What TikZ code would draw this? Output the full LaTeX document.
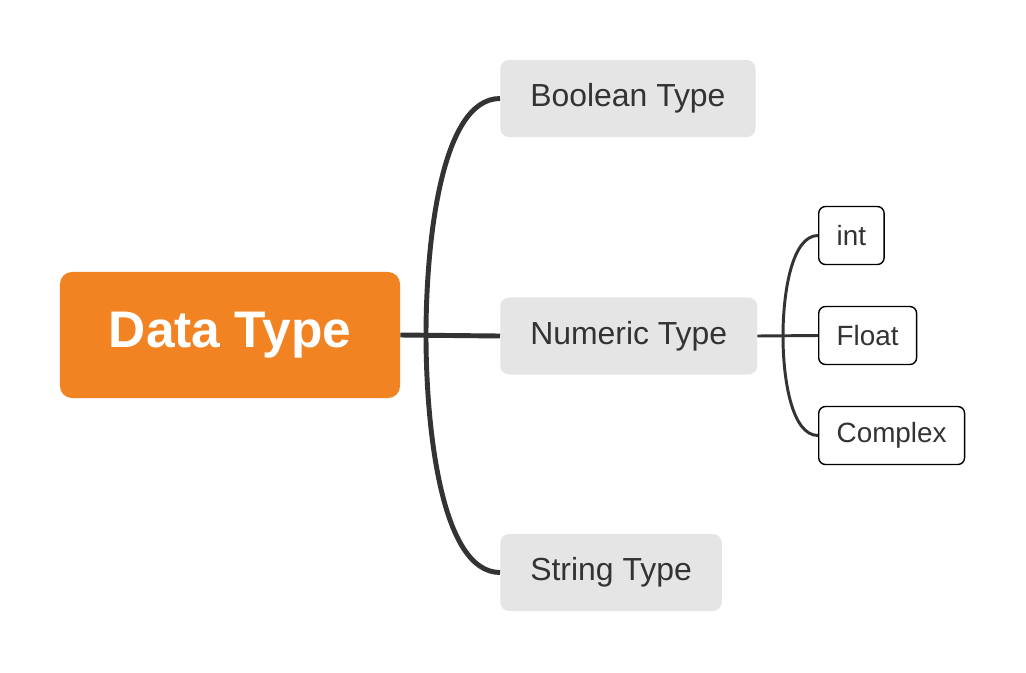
\documentclass[tikz,border=0pt]{standalone}
\usepackage{fontspec}
\setmainfont{Liberation Sans}
\usepackage{tikz}

\definecolor{rootorange}{HTML}{F28322}
\definecolor{boxgray}{HTML}{E5E5E5}
\definecolor{inkgray}{HTML}{333333}

\begin{document}
\begin{tikzpicture}[x=0.025cm, y=-0.025cm,
  rootbox/.style={fill=rootorange, rounded corners=0.3cm, text=white,
    font=\fontsize{36.6}{40}\selectfont\bfseries, minimum width=8.5cm, minimum height=3.15cm},
  typebox/.style={fill=boxgray, rounded corners=0.22cm, text=inkgray, anchor=west,
    font=\fontsize{22.7}{26}\selectfont, inner xsep=0.75cm, minimum height=1.925cm},
  leafbox/.style={draw=black, line width=1pt, fill=white, rounded corners=0.17cm, text=inkgray,
    anchor=west, font=\fontsize{19.8}{23}\selectfont, inner xsep=0.45cm, minimum height=1.45cm},
  trunk/.style={draw=inkgray, line width=3.5pt},
  twig/.style={draw=inkgray, line width=2.1pt}
]
  \useasboundingbox (0,0) rectangle (1026,672);

  % root and types
  \node[rootbox] (root) at (230,335) {Data Type};
  \node[typebox] (bool) at (500,98.5) {Boolean Type};
  \node[typebox] (num) at (500,336) {Numeric Type};
  \node[typebox] (str) at (500,572.5) {String Type};

  % numeric subtypes
  \node[leafbox] (int) at (818,235.5) {int};
  \node[leafbox] (float) at (818,335.5) {Float};
  \node[leafbox] (cplx) at (818,435.5) {Complex};

  % branches
  \coordinate (fork) at (426,335);
  \coordinate (subfork) at (783,336);
  \draw[trunk] (root.east) -- (num.west);
  \draw[trunk] (bool.west) to[out=180, in=90, out distance=1.5cm, in distance=2.2cm] (fork)
    to[out=-90, in=180, out distance=2.2cm, in distance=1.5cm] (str.west);
  \draw[twig] (num.east) -- (float.west);
  \draw[twig] (int.west) to[out=180, in=90, out distance=0.65cm, in distance=1.1cm] (subfork)
    to[out=-90, in=180, out distance=1.1cm, in distance=0.65cm] (cplx.west);
\end{tikzpicture}
\end{document}
